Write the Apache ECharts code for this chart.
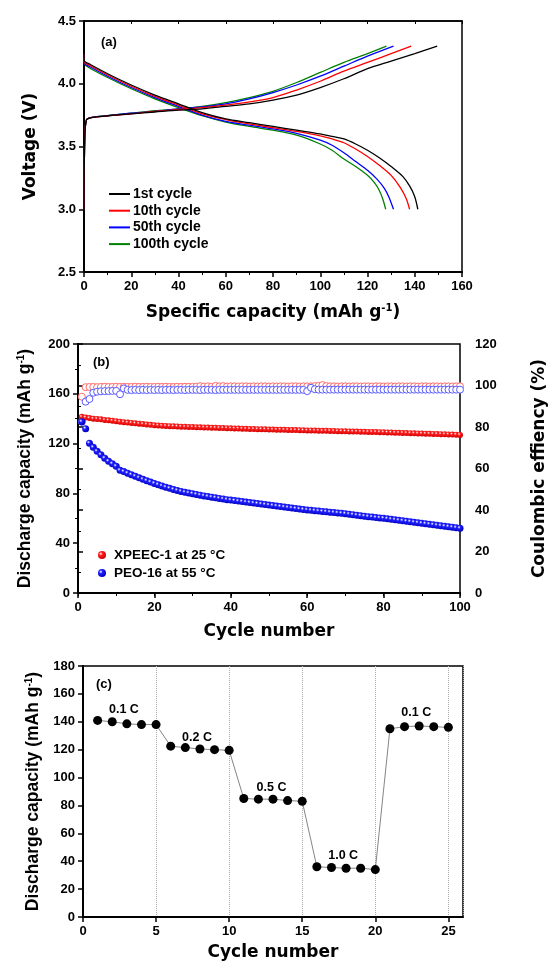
<!DOCTYPE html>
<html>
<head>
<meta charset="utf-8">
<script src="https://cdn.jsdelivr.net/npm/echarts@6/dist/echarts.min.js"></script>
<style>
  html, body { margin: 0; padding: 0; background: #fff; }
  #chart { width: 556px; height: 963px; }
</style>
</head>
<body>
<div id="chart"></div>
<script>
// ---- panel (a): voltage profiles, [capacity, voltage] ----
var chg1st = [[0,3.0],[0.3,3.55],[1,3.71],[3,3.73],[10,3.745],[20,3.76],[30,3.775],[40,3.79],[50,3.80],[60,3.82],[70,3.84],[80,3.87],[90,3.91],[100,3.97],[110,4.04],[120,4.12],[130,4.18],[140,4.24],[149.5,4.30]];
var chg10th = [[0,3.0],[0.3,3.55],[1,3.71],[3,3.73],[10,3.745],[20,3.76],[30,3.78],[40,3.795],[50,3.81],[60,3.83],[70,3.855],[80,3.89],[90,3.95],[100,4.02],[110,4.10],[120,4.17],[130,4.24],[138.5,4.30]];
var chg50th = [[0,3.0],[0.3,3.55],[1,3.71],[3,3.73],[10,3.745],[20,3.765],[30,3.78],[40,3.80],[50,3.815],[60,3.84],[70,3.88],[80,3.93],[90,3.99],[100,4.06],[110,4.14],[120,4.22],[131,4.30]];
var chg100th = [[0,3.0],[0.3,3.55],[1,3.71],[3,3.73],[10,3.745],[20,3.765],[30,3.785],[40,3.80],[50,3.82],[60,3.85],[70,3.89],[80,3.94],[90,4.01],[100,4.09],[110,4.17],[120,4.24],[128,4.30]];
var dis1st = [[0,4.25],[0.2,4.18],[2,4.16],[10,4.08],[20,3.99],[30,3.91],[40,3.84],[50,3.77],[60,3.72],[70,3.69],[80,3.66],[90,3.63],[100,3.60],[105,3.58],[110,3.56],[115,3.52],[120,3.47],[125,3.41],[130,3.34],[135,3.26],[138,3.18],[140,3.10],[141.3,3.0]];
var dis10th = [[0,4.24],[0.2,4.17],[2,4.15],[10,4.07],[20,3.98],[30,3.90],[40,3.83],[50,3.76],[60,3.715],[70,3.68],[80,3.65],[90,3.62],[100,3.585],[105,3.56],[110,3.53],[115,3.48],[120,3.42],[125,3.35],[130,3.27],[134,3.17],[136.5,3.08],[137.8,3.0]];
var dis50th = [[0,4.23],[0.2,4.16],[2,4.14],[10,4.06],[20,3.97],[30,3.89],[40,3.82],[50,3.75],[60,3.70],[70,3.67],[80,3.64],[90,3.605],[100,3.55],[105,3.51],[110,3.45],[115,3.38],[120,3.31],[124,3.24],[127,3.17],[129,3.10],[131,3.0]];
var dis100th = [[0,4.22],[0.2,4.16],[2,4.13],[10,4.05],[20,3.96],[30,3.88],[40,3.81],[50,3.745],[60,3.695],[70,3.66],[80,3.63],[90,3.59],[100,3.52],[105,3.47],[110,3.40],[115,3.34],[120,3.27],[123,3.21],[125,3.15],[126.5,3.08],[127.7,3.0]];
var cycleNames = ['1st cycle', '10th cycle', '50th cycle', '100th cycle'];
var cycleColors = ['#000000', '#ff0000', '#0000ff', '#008000'];

// ---- panel (b): cycling, cycles 1..100 ----
var xpeecCap = [141.5,141,140.5,140,139.8,139.5,139,138.7,138.4,138,
  137.6,137.2,136.9,136.6,136.3,136,135.7,135.4,135.1,134.8,
  134.6,134.4,134.2,134.0,133.9,133.8,133.6,133.5,133.4,133.3,
  133.2,133.1,133.0,132.9,132.8,132.7,132.6,132.5,132.4,132.3,
  132.2,132.1,132.0,131.9,131.8,131.7,131.6,131.6,131.5,131.4,
  131.3,131.2,131.2,131.1,131.0,130.9,130.9,130.8,130.7,130.6,
  130.6,130.5,130.4,130.3,130.3,130.2,130.1,130.0,130.0,129.9,
  129.8,129.7,129.7,129.6,129.5,129.4,129.4,129.3,129.2,129.1,
  129.0,128.9,128.8,128.7,128.6,128.5,128.4,128.3,128.2,128.1,
  128.0,127.9,127.8,127.7,127.6,127.5,127.4,127.3,127.2,127.0];
var peoCap = [137.5,132,120.3,117,113.8,111,108.3,105.8,103.8,101.8,
  98.5,97.5,96.2,95,93.8,92.5,91.3,90.2,89.1,88.0,
  87.0,86.0,85.0,84.1,83.2,82.4,81.6,80.9,80.3,79.8,
  79.2,78.6,78.0,77.5,77.0,76.5,76.0,75.5,75.0,74.6,
  74.2,73.8,73.4,73.0,72.6,72.2,71.8,71.4,71.0,70.6,
  70.2,69.8,69.4,69.0,68.6,68.2,67.8,67.4,67.0,66.7,
  66.4,66.1,65.8,65.5,65.2,64.9,64.6,64.3,64.0,63.7,
  63.3,62.9,62.5,62.1,61.7,61.3,61.0,60.6,60.3,60.0,
  59.6,59.2,58.8,58.4,58.0,57.6,57.2,56.8,56.4,56.0,
  55.6,55.2,54.8,54.4,54.0,53.6,53.2,52.8,52.4,52.0];
var xpeecCE = [94.6,99.2,99.3,99.3,99.2,99.3,99.4,99.3,99.3,99.4,
  99.3,99.4,99.3,99.3,99.4,99.3,99.3,99.4,99.3,99.3,
  99.4,99.3,99.4,99.3,99.3,99.4,99.3,99.4,99.4,99.3,
  99.4,99.7,99.5,99.6,99.4,99.8,99.6,99.7,99.5,99.6,
  99.6,99.5,99.6,99.6,99.5,99.6,99.5,99.6,99.6,99.5,
  99.6,99.5,99.6,99.6,99.5,99.6,99.6,99.5,99.6,99.6,
  99.6,99.7,99.8,100.2,99.7,99.6,99.6,99.5,99.6,99.6,
  99.5,99.6,99.6,99.5,99.6,99.6,99.5,99.6,99.6,99.5,
  99.6,99.6,99.5,99.6,99.6,99.5,99.6,99.6,99.5,99.6,
  99.6,99.5,99.6,99.6,99.5,99.6,99.6,99.5,99.6,99.6];
var peoCE = [82.5,92.2,93.5,96.5,97.0,97.2,97.3,97.3,97.4,97.4,
  95.8,98.6,97.9,97.8,97.9,97.8,97.9,97.8,97.9,97.8,
  97.9,97.8,97.9,97.9,97.8,97.9,97.9,97.8,97.9,97.9,
  97.9,97.8,97.9,97.9,97.9,97.8,97.9,97.9,97.9,97.9,
  97.9,97.9,97.9,97.9,97.9,97.9,97.9,97.9,97.9,97.9,
  97.9,97.9,97.9,97.9,97.9,97.9,97.9,97.9,97.9,97.3,
  98.9,98.2,98.0,98.0,98.0,98.0,98.0,98.0,98.0,98.0,
  98.0,98.0,98.0,98.0,98.0,98.0,98.0,98.0,98.0,98.0,
  98.0,98.0,98.0,98.0,98.0,98.0,98.0,98.0,98.0,98.0,
  98.0,98.0,98.0,98.0,98.0,98.0,98.0,98.0,98.0,98.0];

// ---- panel (c): rate capability ----
var rateCycles = [1,2,3,4,5,6,7,8,9,10,11,12,13,14,15,16,17,18,19,20,21,22,23,24,25];
var rateCap = [141,140,138.5,138,138,122.5,121.5,120.5,120,119.5,85,84.5,84.5,83.5,83,36,35.5,35,35,34,135,136.5,137,136.5,136];
var rateLabels = [[2.8,149,'0.1 C'],[7.8,129,'0.2 C'],[12.9,93,'0.5 C'],[17.8,44,'1.0 C'],[22.8,146.5,'0.1 C']];

var FONT = "'Liberation Sans', Arial, sans-serif";
var WIDE = "'DejaVu Sans', 'Liberation Sans', sans-serif";
var tickLbl = { color: '#000', fontSize: 13, fontWeight: 'bold', fontFamily: FONT };
function nameStyle(fam, size) {
    return {
        color: '#000', fontSize: size, fontWeight: 'bold', fontFamily: fam,
        rich: { s: { fontSize: 10, fontWeight: 'bold', fontFamily: fam, verticalAlign: 'top', padding: [0, 0, 9, 0] } }
    };
}
var axLine = { lineStyle: { color: '#000', width: 2 } };

function pairs(arr) {
    return arr.map(function (v, i) { return [i + 1, v]; });
}
function ball(c1, c2) {
    return new echarts.graphic.RadialGradient(0.35, 0.35, 0.65, [
        { offset: 0, color: '#ffffff' }, { offset: 0.35, color: c1 }, { offset: 1, color: c2 }
    ]);
}

var chart = echarts.init(document.getElementById('chart'));

var series = [];
[chg1st, chg10th, chg50th, chg100th].forEach(function (d, i) {
    series.push({ name: cycleNames[i], type: 'line', xAxisIndex: 0, yAxisIndex: 0, data: d,
        showSymbol: false, smooth: 0.3, lineStyle: { color: cycleColors[i], width: 1.3 }, itemStyle: { color: cycleColors[i] }, z: 5 - i });
});
[dis1st, dis10th, dis50th, dis100th].forEach(function (d, i) {
    series.push({ name: cycleNames[i], type: 'line', xAxisIndex: 0, yAxisIndex: 0, data: d,
        showSymbol: false, smooth: 0.3, lineStyle: { color: cycleColors[i], width: 1.3 }, itemStyle: { color: cycleColors[i] }, z: 5 - i });
});
series.push({ name: 'CE1', type: 'scatter', xAxisIndex: 2, yAxisIndex: 3, data: pairs(xpeecCE),
    symbol: 'circle', symbolSize: 7, itemStyle: { color: '#fff', borderColor: '#ff6a6a', borderWidth: 1, opacity: 1 } });
series.push({ name: 'CE2', type: 'scatter', xAxisIndex: 2, yAxisIndex: 3, data: pairs(peoCE),
    symbol: 'circle', symbolSize: 7, itemStyle: { color: '#fff', borderColor: '#5a5aff', borderWidth: 1, opacity: 1 } });
series.push({ name: 'XPEEC-1 at 25 °C', type: 'scatter', xAxisIndex: 2, yAxisIndex: 2, data: pairs(xpeecCap),
    symbol: 'circle', symbolSize: 6, itemStyle: { color: ball('#ff2020', '#d00000'), opacity: 1 } });
series.push({ name: 'PEO-16 at 55 °C', type: 'scatter', xAxisIndex: 2, yAxisIndex: 2, data: pairs(peoCap),
    symbol: 'circle', symbolSize: 7, itemStyle: { color: ball('#2020ff', '#0000c0'), opacity: 1 } });
series.push({ name: 'rate', type: 'line', xAxisIndex: 4, yAxisIndex: 5,
    data: rateCycles.map(function (c, i) { return [c, rateCap[i]]; }),
    symbol: 'circle', symbolSize: 9, itemStyle: { color: '#000' }, lineStyle: { color: '#666', width: 0.8 } });
series.push({ name: 'rateText', type: 'scatter', xAxisIndex: 4, yAxisIndex: 5, data: rateLabels,
    symbolSize: 0, itemStyle: { opacity: 1 },
    label: { show: true, position: 'inside', formatter: function (p) { return p.value[2]; },
    color: '#000', fontSize: 12.5, fontWeight: 'bold', fontFamily: FONT } });

chart.setOption({
    animation: false,
    backgroundColor: '#fff',
    grid: [
        { left: 84, top: 21, width: 378, height: 251, show: true, borderColor: '#000', borderWidth: 1.5 },
        { left: 78, top: 344, width: 382, height: 249, show: true, borderColor: '#000', borderWidth: 1.5 },
        { left: 83, top: 666, width: 380, height: 251, show: true, borderColor: '#000', borderWidth: 1.5 }
    ],
    legend: [
        {
            data: cycleNames, orient: 'vertical', left: 104, top: 182, itemGap: 2.7,
            icon: 'rect', itemWidth: 21, itemHeight: 2,
            textStyle: { color: '#000', fontSize: 14, fontWeight: 'bold', fontFamily: FONT, padding: [0, 0, 0, -2] }
        },
        {
            data: ['XPEEC-1 at 25 °C', 'PEO-16 at 55 °C'], orient: 'vertical', left: 93, top: 543, itemGap: 4,
            icon: 'circle', itemWidth: 8, itemHeight: 8,
            textStyle: { color: '#000', fontSize: 13.5, fontWeight: 'bold', fontFamily: FONT, padding: [0, 0, 0, 3] }
        }
    ],
    xAxis: [
        { gridIndex: 0, type: 'value', min: 0, max: 160, interval: 20,
          name: 'Specific capacity (mAh g{s|-1})', nameLocation: 'middle', nameGap: 31, nameTextStyle: nameStyle(WIDE, 17),
          axisLine: axLine, axisTick: { length: 5, lineStyle: { width: 1.5 } },
          minorTick: { show: true, splitNumber: 2, length: 3 }, axisLabel: tickLbl, splitLine: { show: false } },
        { gridIndex: 0, type: 'value', position: 'top', min: 0, max: 160, interval: 20,
          axisLine: { lineStyle: { color: '#000', width: 1.5 } }, axisTick: { inside: true, length: 3 },
          axisLabel: { show: false }, splitLine: { show: false } },
        { gridIndex: 1, type: 'value', min: 0, max: 100, interval: 20,
          name: 'Cycle number', nameLocation: 'middle', nameGap: 30, nameTextStyle: nameStyle(WIDE, 17),
          axisLine: axLine, axisTick: { length: 5, lineStyle: { width: 1.5 } },
          minorTick: { show: true, splitNumber: 2, length: 3 }, axisLabel: tickLbl, splitLine: { show: false } },
        { gridIndex: 1, type: 'value', position: 'top', min: 0, max: 100, interval: 10,
          axisLine: { lineStyle: { color: '#000', width: 1.5 } }, axisTick: { inside: true, length: 3 },
          axisLabel: { show: false }, splitLine: { show: false } },
        { gridIndex: 2, type: 'value', min: 0, max: 26, interval: 5,
          name: 'Cycle number', nameLocation: 'middle', nameGap: 27, nameTextStyle: nameStyle(WIDE, 17),
          axisLine: axLine, axisTick: { length: 5, lineStyle: { width: 1.5 } },
          axisLabel: Object.assign({ showMaxLabel: false }, tickLbl),
          splitLine: { show: true, lineStyle: { color: '#aaa', type: 'dotted', width: 1 } } }
    ],
    yAxis: [
        { gridIndex: 0, type: 'value', min: 2.5, max: 4.5, interval: 0.5,
          name: 'Voltage (V)', nameLocation: 'middle', nameGap: 45, nameTextStyle: nameStyle(WIDE, 17),
          axisLine: axLine, axisTick: { length: 5, lineStyle: { width: 1.5 } },
          axisLabel: Object.assign({ formatter: function (v) { return v.toFixed(1); } }, tickLbl), splitLine: { show: false } },
        { gridIndex: 0, type: 'value', position: 'right', min: 2.5, max: 4.5, interval: 0.5,
          axisLine: { show: true, lineStyle: { color: '#000', width: 1.5 } }, axisTick: { show: false },
          axisLabel: { show: false }, splitLine: { show: false } },
        { gridIndex: 1, type: 'value', min: 0, max: 200, interval: 40,
          name: 'Discharge capacity (mAh g{s|-1})', nameLocation: 'middle', nameGap: 43, nameTextStyle: nameStyle(FONT, 17.5),
          axisLine: axLine, axisTick: { length: 5, lineStyle: { width: 1.5 } },
          minorTick: { show: true, splitNumber: 2, length: 3 }, axisLabel: tickLbl, splitLine: { show: false } },
        { gridIndex: 1, type: 'value', position: 'right', min: 0, max: 120, interval: 20,
          name: 'Coulombic effiency (%)', nameLocation: 'middle', nameGap: 71, nameRotate: 90, nameTextStyle: nameStyle(WIDE, 17),
          axisLine: { show: true, lineStyle: { color: '#000', width: 2 } }, axisTick: { length: 5, lineStyle: { width: 1.5 } },
          minorTick: { show: true, splitNumber: 2, length: 3 }, axisLabel: Object.assign({ margin: 15 }, tickLbl), splitLine: { show: false } },
        { gridIndex: 2, type: 'value', position: 'right', min: 0, max: 180, interval: 20,
          axisLine: { show: true, lineStyle: { color: '#000', width: 1.5 } }, axisTick: { show: false },
          axisLabel: { show: false }, splitLine: { show: false } },
        { gridIndex: 2, type: 'value', position: 'left', min: 0, max: 180, interval: 20,
          name: 'Discharge capacity (mAh g{s|-1})', nameLocation: 'middle', nameGap: 38, nameTextStyle: nameStyle(FONT, 17.5),
          axisLine: axLine, axisTick: { length: 5, lineStyle: { width: 1.5 } },
          axisLabel: tickLbl, splitLine: { show: false } }
    ],
    graphic: [
        { type: 'text', left: 101, top: 36, style: { text: '(a)', fill: '#000', font: 'bold 13px ' + FONT } },
        { type: 'text', left: 93, top: 356, style: { text: '(b)', fill: '#000', font: 'bold 13px ' + FONT } },
        { type: 'text', left: 96, top: 678, style: { text: '(c)', fill: '#000', font: 'bold 13px ' + FONT } }
    ],
    series: series
});
</script>
</body>
</html>
